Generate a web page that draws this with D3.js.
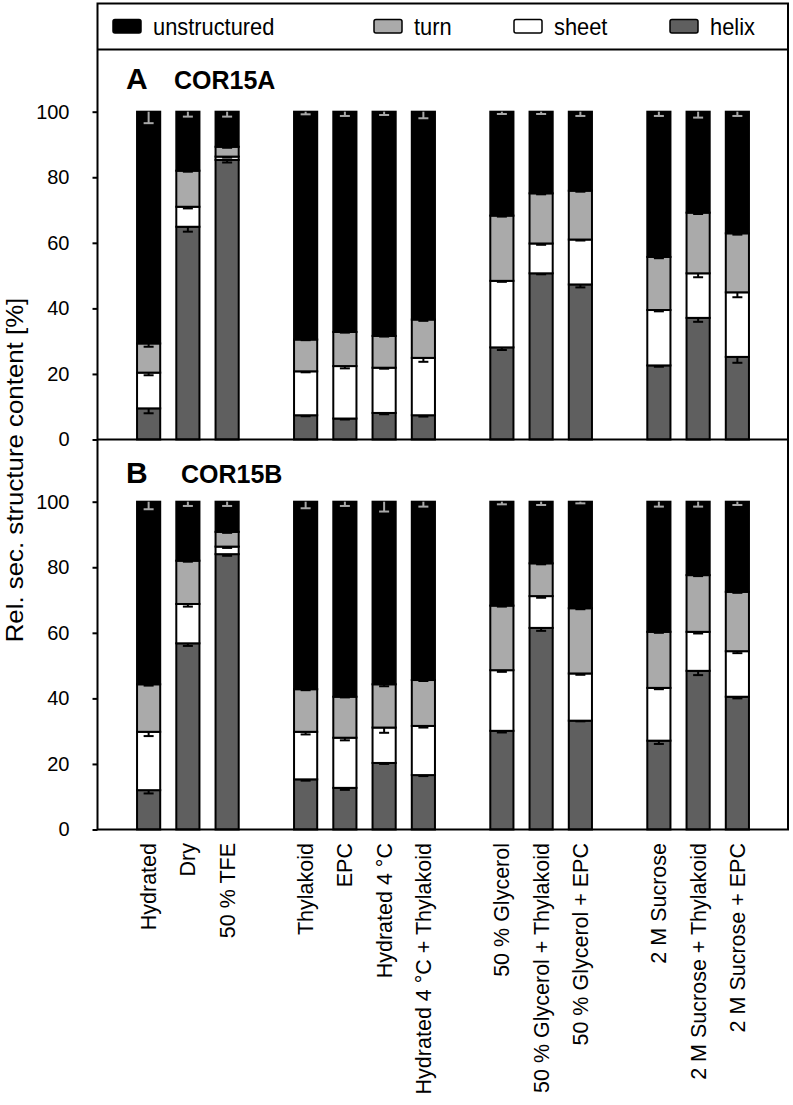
<!DOCTYPE html>
<html>
<head>
  <meta charset="utf-8">
  <script src="https://cdn.jsdelivr.net/npm/d3@7"></script>
  <style>
    body { margin: 0; background: #fff; }
    text { font-family: "Liberation Sans", Arial, sans-serif; fill: #000; }
  </style>
</head>
<body>
<script>
// x categories, and the group each one sits in (groups are split by an empty slot)
var conditions = ["Hydrated", "Dry", "50 % TFE",
  "Thylakoid", "EPC", "Hydrated 4 °C", "Hydrated 4 °C + Thylakoid",
  "50 % Glycerol", "50 % Glycerol + Thylakoid", "50 % Glycerol + EPC",
  "2 M Sucrose", "2 M Sucrose + Thylakoid", "2 M Sucrose + EPC"];
var groupOf = [0, 0, 0, 1, 1, 1, 1, 2, 2, 2, 3, 3, 3];
var yTicks = [0, 20, 40, 60, 80, 100];
var legendOrder = ["unstructured", "turn", "sheet", "helix"];
var stackOrder = ["helix", "sheet", "turn", "unstructured"];

// COR15A, % of each structure
var aHelix = [9.5, 64.9, 85.3, 7.4, 6.4, 8.1, 7.4, 28.1, 50.7, 47.3, 22.6, 37.1, 25.2];
var aSheet = [10.9, 6.1, 1.0, 13.4, 16.0, 13.8, 17.5, 20.3, 9.1, 13.7, 16.9, 13.6, 19.7];
var aTurn = [8.9, 11.0, 3.0, 9.7, 10.4, 9.7, 11.7, 19.9, 15.3, 14.9, 16.2, 18.5, 18.0];
var aUnstr = [70.7, 18.0, 10.7, 69.5, 67.2, 68.4, 63.4, 31.7, 24.9, 24.1, 44.3, 30.8, 37.1];
var aHelixErr = [1.5, 1.5, 0.8, 0.3, 0.3, 0.4, 0.4, 0.8, 0.3, 0.9, 0.4, 1.2, 1.8];
var aSheetErr = [0.8, 0.5, 0.3, 0.3, 0.7, 0.3, 1.2, 0.3, 0.4, 0.3, 0.4, 1.2, 1.5];
var aTurnErr = [1.0, 0.3, 0.3, 0.2, 0.2, 0.2, 0.4, 0.3, 0.3, 0.3, 0.4, 0.4, 0.4];
var aUnstrErr = [3.5, 1.5, 1.5, 0.8, 1.3, 1.0, 2.0, 0.7, 0.7, 1.3, 1.3, 1.8, 1.3];

// COR15B
var bHelix = [12.0, 56.8, 84.0, 15.3, 12.7, 20.3, 16.6, 30.1, 61.5, 33.2, 27.1, 48.4, 40.5];
var bSheet = [17.8, 12.0, 2.3, 14.5, 15.3, 10.8, 15.0, 18.5, 9.7, 14.4, 16.1, 11.9, 13.9];
var bTurn = [14.5, 13.2, 4.5, 13.0, 12.5, 13.2, 14.0, 19.7, 10.0, 19.9, 17.1, 17.3, 18.1];
var bUnstr = [55.7, 18.0, 9.2, 57.2, 59.5, 55.7, 54.4, 31.7, 18.8, 32.5, 39.7, 22.4, 27.5];
var bHelixErr = [1.0, 0.8, 0.5, 0.4, 0.6, 0.3, 0.3, 0.5, 0.9, 0.2, 1.0, 1.3, 0.5];
var bSheetErr = [1.3, 0.8, 0.4, 0.8, 0.8, 1.6, 0.5, 0.5, 0.5, 0.4, 0.4, 0.5, 0.6];
var bTurnErr = [0.4, 0.3, 0.3, 0.3, 0.2, 0.6, 0.3, 0.3, 0.3, 0.3, 0.3, 0.3, 0.3];
var bUnstrErr = [2.3, 1.3, 1.3, 2.0, 1.3, 3.0, 1.5, 0.8, 1.0, 0.5, 1.5, 1.5, 1.0];

var fills = { unstructured: "#000000", turn: "#aaaaaa", sheet: "#ffffff", helix: "#5f5f5f" };
var errColor = { unstructured: "#a8a8a8", turn: "#000", sheet: "#000", helix: "#000" };

var panels = [
  { letter: "A", name: "COR15A", nameX: 174, labelY: 89, top: 111.7, bottom: 439.5,
    values: { helix: aHelix, sheet: aSheet, turn: aTurn, unstructured: aUnstr },
    errors: { helix: aHelixErr, sheet: aSheetErr, turn: aTurnErr, unstructured: aUnstrErr } },
  { letter: "B", name: "COR15B", nameX: 181, labelY: 483, top: 501.7, bottom: 829.5,
    values: { helix: bHelix, sheet: bSheet, turn: bTurn, unstructured: bUnstr },
    errors: { helix: bHelixErr, sheet: bSheetErr, turn: bTurnErr, unstructured: bUnstrErr } }
];

var left = 97.5, right = 788, frameTop = 3.5, legendBottom = 49.5;

var svg = d3.select("body").append("svg")
    .attr("width", 793)
    .attr("height", 1105);

var x = d3.scaleBand()
    .domain(d3.range(16))
    .range([129, 757])
    .paddingInner(0.41)
    .paddingOuter(0.205);

function slot(i) { return i + groupOf[i]; }
function cx(i) { return x(slot(i)) + x.bandwidth() / 2; }

panels.forEach(function(p) {
  var y = d3.scaleLinear().domain([0, 100]).range([p.bottom, p.top]);
  var g = svg.append("g");

  var rows = conditions.map(function(c, i) {
    var r = { i: i };
    stackOrder.forEach(function(k) { r[k] = p.values[k][i]; });
    return r;
  });
  var series = d3.stack().keys(stackOrder)(rows);

  g.selectAll("g.layer")
    .data(series)
    .enter().append("g")
      .attr("class", "layer")
      .attr("fill", function(s) { return fills[s.key]; })
    .selectAll("rect")
    .data(function(s) { return s; })
    .enter().append("rect")
      .attr("x", function(d) { return x(slot(d.data.i)); })
      .attr("y", function(d) { return y(d[1]); })
      .attr("width", x.bandwidth())
      .attr("height", function(d) { return y(d[0]) - y(d[1]); })
      .attr("stroke", "#000")
      .attr("stroke-width", 2);

  // minus error bars hanging down from each segment top
  series.forEach(function(s) {
    s.forEach(function(d) {
      var e = p.errors[s.key][d.data.i];
      var xc = cx(d.data.i);
      var y1 = y(d[1]), y2 = y(d[1] - e);
      g.append("line")
        .attr("x1", xc).attr("x2", xc).attr("y1", y1).attr("y2", y2)
        .attr("stroke", errColor[s.key]).attr("stroke-width", 2);
      g.append("line")
        .attr("x1", xc - 5).attr("x2", xc + 5).attr("y1", y2).attr("y2", y2)
        .attr("stroke", errColor[s.key]).attr("stroke-width", 2);
    });
  });

  var axis = d3.axisLeft(y).tickValues(yTicks).tickSize(5).tickPadding(23);
  var ag = svg.append("g")
      .attr("transform", "translate(" + left + ",0)")
      .call(axis);
  ag.select(".domain").remove();
  ag.selectAll(".tick line").attr("stroke", "#000").attr("stroke-width", 2);
  ag.selectAll(".tick text")
      .attr("font-family", "Liberation Sans, Arial, sans-serif")
      .attr("font-size", 20);

  svg.append("text")
      .attr("x", 126).attr("y", p.labelY)
      .attr("font-size", 30).attr("font-weight", "bold")
      .text(p.letter);
  svg.append("text")
      .attr("x", p.nameX).attr("y", p.labelY)
      .attr("font-size", 25).attr("font-weight", "bold")
      .text(p.name);
});

// frame: legend box and both panels
var frame = svg.append("g").attr("fill", "none").attr("stroke", "#000").attr("stroke-width", 2);
frame.append("rect")
    .attr("x", left).attr("y", frameTop)
    .attr("width", right - left).attr("height", panels[1].bottom - frameTop);
[legendBottom, panels[0].bottom].forEach(function(yy) {
  frame.append("line").attr("x1", left).attr("x2", right).attr("y1", yy).attr("y2", yy);
});

// legend
var legendX = [113, 374, 514, 670];
legendOrder.forEach(function(k, i) {
  svg.append("rect")
      .attr("x", legendX[i]).attr("y", 19.5)
      .attr("width", 28).attr("height", 13.5)
      .attr("rx", 2)
      .attr("fill", fills[k]).attr("stroke", "#000").attr("stroke-width", 1.5);
  svg.append("g")
      .attr("transform", "translate(" + (legendX[i] + 40) + ",34.5) scale(0.95,1)")
    .append("text")
      .attr("font-size", 23)
      .text(k);
});

// category labels
svg.selectAll("text.cat")
  .data(conditions)
  .enter().append("text")
    .attr("class", "cat")
    .attr("transform", function(d, i) { return "translate(" + cx(i) + ",843) rotate(-90)"; })
    .attr("text-anchor", "end")
    .attr("dy", "0.35em")
    .attr("font-size", 21.5)
    .text(function(d) { return d; });

svg.append("text")
    .attr("transform", "translate(15,470) rotate(-90) scale(1.1,1)")
    .attr("text-anchor", "middle")
    .attr("dy", "0.35em")
    .attr("font-size", 23.5)
    .text("Rel. sec. structure content [%]");
</script>
</body>
</html>
